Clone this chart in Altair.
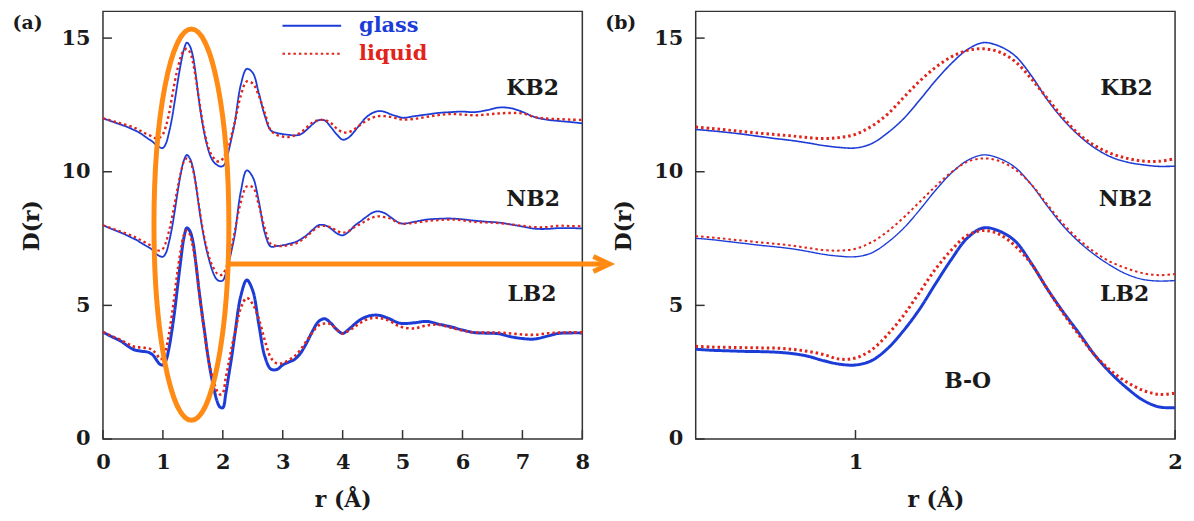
import altair as alt
import pandas as pd

# ---------------- data ----------------
r = [0.0, 0.1, 0.2, 0.3, 0.4, 0.5,
     0.55, 0.6, 0.65, 0.7, 0.75, 0.8, 0.85, 0.9, 0.95,
     1.0, 1.05, 1.1, 1.15, 1.2, 1.25, 1.3, 1.35, 1.4, 1.45, 1.5,
     1.55, 1.6, 1.65, 1.7, 1.75, 1.8, 1.85, 1.9, 1.95, 2.0, 2.05, 2.1, 2.15, 2.2,
     2.3, 2.4, 2.5, 2.6, 2.7, 2.8, 2.9, 3.0, 3.1, 3.2,
     3.3, 3.4, 3.5, 3.6, 3.7, 3.8, 3.9, 4.0, 4.1, 4.2,
     4.3, 4.4, 4.5, 4.6, 4.7, 4.8, 4.9, 5.0,
     5.2, 5.4, 5.6, 5.8, 6.0, 6.2, 6.4, 6.6, 6.8, 7.0, 7.2, 7.4, 7.6, 7.8, 8.0]

KB2_glass = [12.0, 11.92, 11.84, 11.76, 11.68, 11.58,
             11.53, 11.47, 11.40, 11.32, 11.24, 11.17, 11.08, 10.98, 10.91,
             10.89, 11.05, 11.45, 11.98, 12.67, 13.40, 14.05, 14.57, 14.83, 14.70, 14.33,
             13.60, 12.70, 11.95, 11.35, 10.88, 10.55, 10.36, 10.26, 10.20, 10.21, 10.36, 10.80, 11.30, 11.85,
             13.25, 13.85, 13.70, 12.95, 12.10, 11.55, 11.45, 11.41, 11.38, 11.36,
             11.40, 11.57, 11.78, 11.93, 11.92, 11.68, 11.40, 11.20, 11.28, 11.52,
             11.80, 12.05, 12.20, 12.27, 12.24, 12.15, 12.08, 12.02,
             12.08, 12.14, 12.20, 12.23, 12.25, 12.23, 12.30, 12.40, 12.38, 12.24, 12.05, 11.95, 11.90, 11.86, 11.81]

KB2_liquid = [12.0, 11.94, 11.87, 11.80, 11.74, 11.67,
              11.62, 11.56, 11.50, 11.44, 11.39, 11.34, 11.28, 11.24, 11.28,
              11.40, 11.70, 12.15, 12.77, 13.38, 13.90, 14.30, 14.54, 14.60, 14.48, 14.12,
              13.48, 12.75, 12.02, 11.40, 10.97, 10.68, 10.50, 10.40, 10.39, 10.49, 10.70, 10.95, 11.40, 11.85,
              12.85, 13.38, 13.30, 12.85, 12.20, 11.55, 11.38, 11.32, 11.30, 11.36,
              11.47, 11.66, 11.85, 11.93, 11.93, 11.83, 11.62, 11.48, 11.48, 11.60,
              11.76, 11.92, 12.02, 12.08, 12.08, 12.05, 12.00, 11.95,
              11.98, 12.05, 12.12, 12.16, 12.14, 12.11, 12.14, 12.18, 12.20, 12.18, 12.05, 11.99, 11.97, 11.95, 11.94]

NB2_glass = [8.0, 7.90, 7.81, 7.72, 7.62, 7.51,
             7.46, 7.39, 7.32, 7.25, 7.19, 7.12, 7.02, 6.91, 6.84,
             6.82, 6.96, 7.35, 7.88, 8.56, 9.30, 9.95, 10.42, 10.63, 10.50, 10.16,
             9.52, 8.72, 7.97, 7.37, 6.88, 6.48, 6.16, 5.97, 5.91, 5.93, 6.20, 6.60, 7.10, 7.65,
             9.26, 10.05, 9.80, 8.90, 7.72, 7.20, 7.22, 7.25, 7.30, 7.36,
             7.47, 7.63, 7.83, 8.00, 8.00, 7.88, 7.70, 7.62, 7.75, 7.98,
             8.15, 8.32, 8.47, 8.52, 8.45, 8.30, 8.14, 8.06,
             8.13, 8.21, 8.24, 8.25, 8.22, 8.17, 8.13, 8.10, 8.03, 7.95, 7.87, 7.86, 7.89, 7.89, 7.88]

NB2_liquid = [8.0, 7.92, 7.84, 7.76, 7.68, 7.59,
              7.54, 7.48, 7.42, 7.36, 7.30, 7.24, 7.15, 7.07, 7.05,
              7.12, 7.36, 7.76, 8.28, 8.86, 9.45, 9.98, 10.37, 10.50, 10.40, 10.08,
              9.53, 8.78, 8.05, 7.45, 6.98, 6.62, 6.38, 6.20, 6.13, 6.17, 6.38, 6.70, 7.20, 7.78,
              8.85, 9.45, 9.42, 8.75, 7.90, 7.30, 7.23, 7.22, 7.25, 7.30,
              7.42, 7.58, 7.78, 7.94, 7.97, 7.92, 7.80, 7.72, 7.78, 7.93,
              8.05, 8.18, 8.29, 8.33, 8.30, 8.24, 8.12, 8.05,
              8.09, 8.15, 8.19, 8.21, 8.18, 8.12, 8.10, 8.08, 8.03, 7.98, 7.93, 7.93, 7.98, 7.97, 7.96]

LB2_glass = [4.0, 3.88, 3.77, 3.66, 3.50, 3.36,
             3.32, 3.30, 3.28, 3.27, 3.25, 3.20, 3.10, 2.93, 2.80,
             2.77, 2.93, 3.38, 4.05, 4.85, 5.80, 6.72, 7.52, 7.90, 7.78, 7.40,
             6.58, 5.62, 4.75, 3.95, 3.12, 2.45, 1.90, 1.45, 1.20, 1.17, 1.70, 2.40, 3.10, 3.90,
             5.35, 5.95, 5.55, 4.30, 3.10, 2.62, 2.60, 2.77, 2.88, 2.98,
             3.22, 3.60, 4.05, 4.40, 4.50, 4.34, 4.10, 3.95, 4.10, 4.30,
             4.47, 4.58, 4.63, 4.63, 4.57, 4.48, 4.37, 4.32,
             4.35, 4.40, 4.30, 4.20, 4.08, 3.98, 3.96, 3.94, 3.83, 3.76, 3.74, 3.84, 3.95, 3.97, 3.97]

LB2_liquid = [4.0, 3.90, 3.80, 3.70, 3.58, 3.47,
              3.44, 3.43, 3.42, 3.41, 3.40, 3.36, 3.28, 3.16, 2.99,
              3.03, 3.33, 3.90, 4.62, 5.48, 6.35, 7.07, 7.62, 7.80, 7.66, 7.22,
              6.56, 5.62, 4.70, 3.88, 3.12, 2.55, 2.12, 1.82, 1.67, 1.72, 2.30, 2.85, 3.45, 3.95,
              4.90, 5.28, 5.05, 4.50, 3.70, 3.05, 2.83, 2.84, 2.95, 3.10,
              3.35, 3.68, 4.00, 4.25, 4.32, 4.30, 4.10, 3.95, 4.05, 4.20,
              4.35, 4.47, 4.53, 4.53, 4.49, 4.40, 4.26, 4.18,
              4.14, 4.25, 4.28, 4.17, 4.06, 3.99, 3.98, 3.98, 3.95, 3.91, 3.90, 3.95, 3.98, 3.99, 3.99]

phases = ["glass", "liquid"]

labels_a = ["KB2", "NB2", "LB2"]
labels_a_r = [7.17, 7.18, 7.16]
labels_a_D = [13.15, 8.99, 5.41]
labels_b = ["KB2", "NB2", "LB2", "B-O"]
labels_b_r = [1.848, 1.845, 1.842, 1.351]
labels_b_D = [13.12, 8.97, 5.41, 2.18]

x_ticks_a = [0, 1, 2, 3, 4, 5, 6, 7, 8]
x_ticks_b = [1, 2]
y_ticks = [0, 5, 10, 15]

# annotation anchors (data coordinates)
ellipse_r, ellipse_D = [1.476], [8.02]
arrow_r, arrow_r2, arrow_D = [2.12], [8.40], [6.55]
head_r = [8.45]

# ---------------- styles ----------------
BLUE = "#1c3cd8"
RED = "#e2231a"
ORANGE = "#ff8a14"
INK = "#1a1a1a"
FRAME = "#333333"
FONT = "DejaVu Serif"
W, H = 482, 430

width_a = {("KB2", "glass"): 1.8, ("NB2", "glass"): 1.8, ("LB2", "glass"): 3.0,
           ("KB2", "liquid"): 2.4, ("NB2", "liquid"): 2.2, ("LB2", "liquid"): 2.6}
width_b = {("KB2", "glass"): 1.6, ("NB2", "glass"): 1.4, ("LB2", "glass"): 3.0,
           ("KB2", "liquid"): 3.0, ("NB2", "liquid"): 2.0, ("LB2", "liquid"): 3.0}

curves = {("KB2", "glass"): KB2_glass, ("KB2", "liquid"): KB2_liquid,
          ("NB2", "glass"): NB2_glass, ("NB2", "liquid"): NB2_liquid,
          ("LB2", "glass"): LB2_glass, ("LB2", "liquid"): LB2_liquid}


def curve_frame(widths, rmin, rmax):
    rows = []
    for (s, ph), vals in curves.items():
        for ri, di in zip(r, vals):
            if rmin - 1e-9 <= ri <= rmax + 1e-9:
                rows.append({"r": ri, "D": di, "sample": s, "phase": ph,
                             "curve": s + "-" + ph, "w": widths[(s, ph)]})
    return pd.DataFrame(rows)


color_scale = alt.Scale(domain=phases, range=[BLUE, RED])
dash_scale = alt.Scale(domain=phases, range=[[1, 0], [2.5, 3]])

legend = alt.Legend(
    title=None, orient="none", legendX=199, legendY=3.5,
    symbolType="M-2.95,0L2.95,0", symbolSize=400, symbolStrokeWidth=2,
    labelFont=FONT, labelFontSize=21, labelFontWeight="bold",
    labelColor=alt.ExprRef(expr=f"datum.label == 'glass' ? '{BLUE}' : '{RED}'"),
    labelOffset=36.5, rowPadding=7, padding=0,
)


def panel(widths, xdom, xticks, lab, lab_r, lab_D, tag, show_legend, extras):
    df = curve_frame(widths, xdom[0], xdom[1])
    xs = alt.Scale(domain=xdom, nice=False, zero=False)
    ys = alt.Scale(domain=[0, 16], nice=False, zero=False)
    xaxis = alt.Axis(values=xticks, format="d", title="r (Å)", labelPadding=13, titlePadding=17)
    yaxis = alt.Axis(values=y_ticks, format="d", title="D(r)", labelPadding=13, titlePadding=18)
    leg = legend if show_legend else None

    def X(field="r"):
        return alt.X(f"{field}:Q", scale=xs, axis=xaxis)

    def Y(field="D"):
        return alt.Y(f"{field}:Q", scale=ys, axis=yaxis)

    layers = []
    for ph in phases:
        layers.append(
            alt.Chart(df[df.phase == ph]).mark_line(interpolate="catmull-rom").encode(
                x=X(), y=Y(),
                color=alt.Color("phase:N", scale=color_scale, legend=leg),
                strokeDash=alt.StrokeDash("phase:N", scale=dash_scale, legend=leg),
                strokeWidth=alt.StrokeWidth("w:Q", scale=None, legend=None),
                detail="curve:N",
            )
        )
    # inward ticks
    layers.append(
        alt.Chart(pd.DataFrame({"r": xticks})).mark_rule(color=FRAME, strokeWidth=1.5).encode(
            x=X(), y=alt.value(H), y2=alt.value(H - 9))
    )
    layers.append(
        alt.Chart(pd.DataFrame({"D": y_ticks})).mark_rule(color=FRAME, strokeWidth=1.5).encode(
            y=Y(), x=alt.value(0), x2=alt.value(9))
    )
    # curve labels
    layers.append(
        alt.Chart(pd.DataFrame({"t": lab, "r": lab_r, "D": lab_D})).mark_text(
            font=FONT, fontSize=22, fontWeight="bold", color=INK).encode(
            x=X(), y=Y(), text="t:N")
    )
    for e in extras:
        layers.append(e(X, Y))
    # panel tag
    layers.append(
        alt.Chart(pd.DataFrame({"t": [tag]})).mark_text(
            font=FONT, fontSize=19, fontWeight="bold", color=INK, align="left",
            baseline="alphabetic").encode(text="t:N", x=alt.value(-91), y=alt.value(18))
    )
    return alt.layer(*layers).properties(width=W, height=H)


k = 0.5523
a = 0.1914
ell_path = (f"M0,-1 C{a*k:.4f},-1 {a},{-k} {a},0 C{a},{k} {a*k:.4f},1 0,1 "
            f"C{-a*k:.4f},1 {-a},{k} {-a},0 C{-a},{-k} {-a*k:.4f},-1 0,-1 Z")


def ellipse(X, Y):
    return alt.Chart(pd.DataFrame({"r": ellipse_r, "D": ellipse_D})).mark_point(
        shape=ell_path, size=393.4 ** 2, filled=False, stroke=ORANGE, strokeWidth=5, opacity=1).encode(
        x=X(), y=Y())


def arrow(X, Y):
    return alt.Chart(pd.DataFrame({"r": arrow_r, "r2": arrow_r2, "D": arrow_D})).mark_rule(
        color=ORANGE, strokeWidth=5).encode(x=X(), x2="r2:Q", y=Y())


def head(X, Y):
    return alt.Chart(pd.DataFrame({"r": head_r, "D": arrow_D})).mark_point(
        shape="M-1,-0.47 L0,0 L-1,0.47", size=1024, filled=False, stroke=ORANGE,
        strokeWidth=5, opacity=1, strokeJoin="miter").encode(x=X(), y=Y())


pa = panel(width_a, [0, 8], x_ticks_a, labels_a, labels_a_r, labels_a_D, "(a)", True,
           [ellipse, arrow, head])
pb = panel(width_b, [0.5, 2.0], x_ticks_b, labels_b, labels_b_r, labels_b_D, "(b)", False, [])

chart = alt.hconcat(pa, pb, spacing=114, bounds="flush").resolve_legend(
    color="independent", strokeDash="independent"
).properties(
    padding={"left": 3.5, "top": 1, "right": 2, "bottom": 0}
).configure_view(
    stroke=FRAME, strokeWidth=1.5
).configure_axis(
    labelFont=FONT, labelFontSize=21, labelFontWeight="bold", labelColor=INK,
    titleFont=FONT, titleFontSize=22, titleFontWeight="bold", titleColor=INK,
    ticks=False, domain=False, grid=False, labelFlush=False,
)

chart.save("out.html", embed_options={"renderer": "svg", "actions": False})
